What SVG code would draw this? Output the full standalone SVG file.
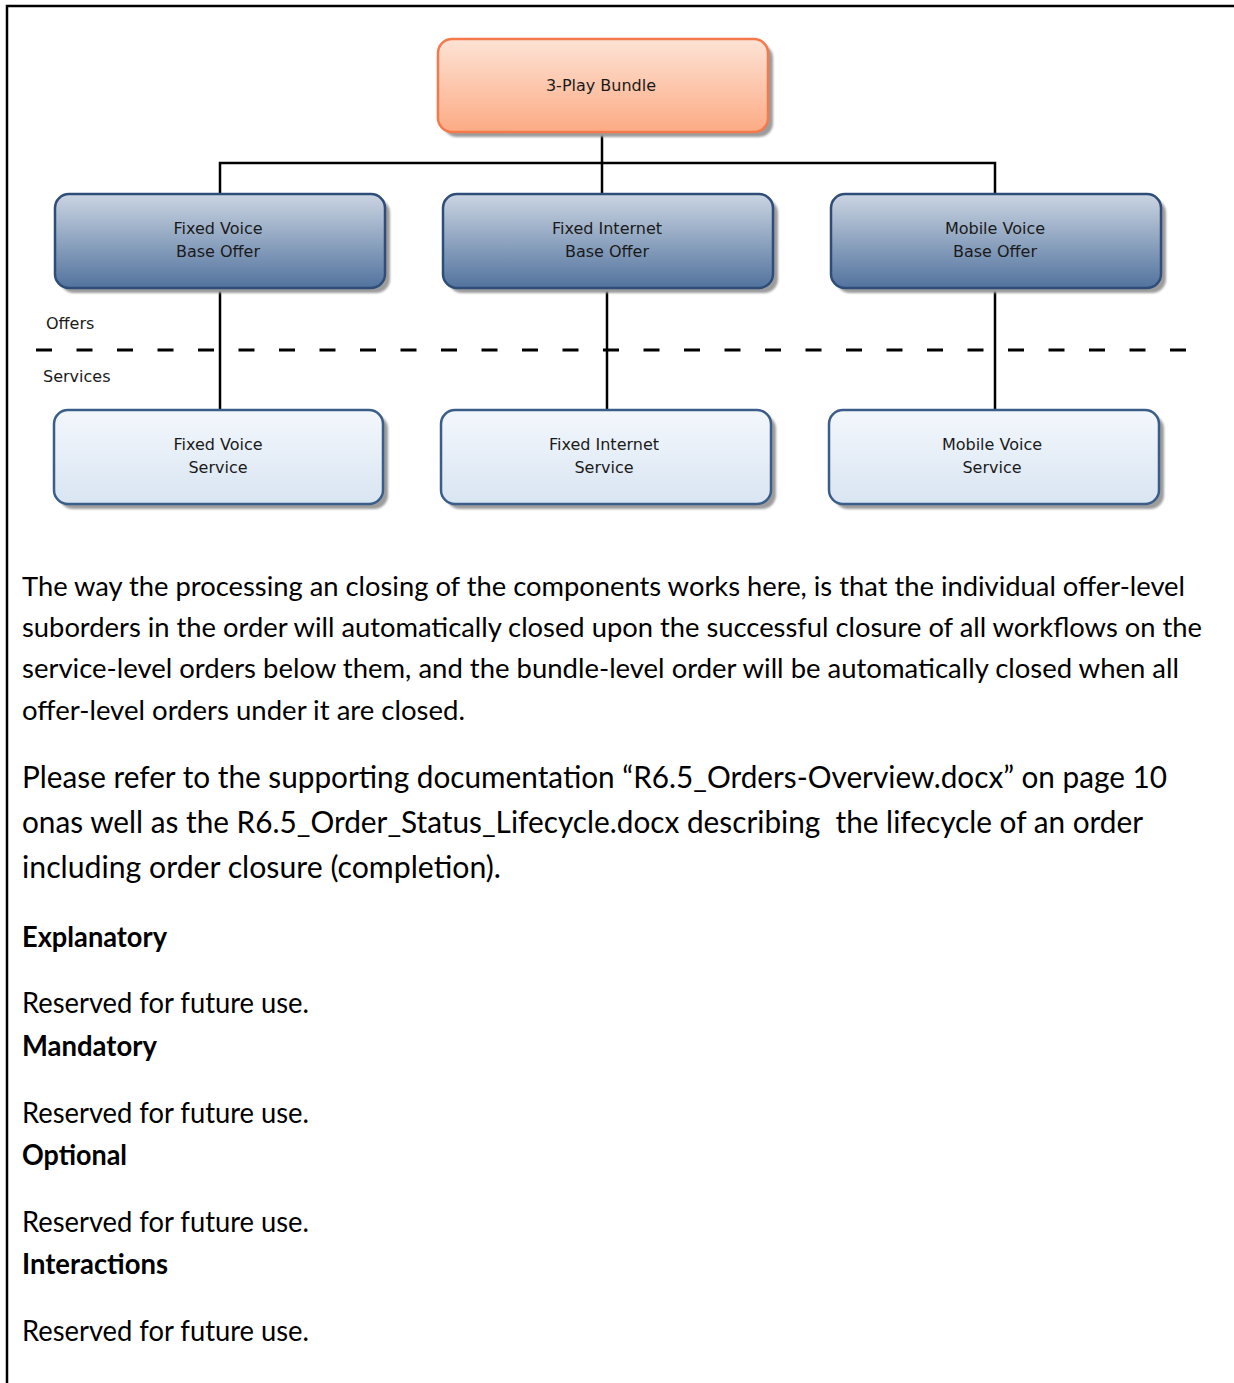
<svg xmlns="http://www.w3.org/2000/svg" width="1234" height="1383" viewBox="0 0 1234 1383">
  <defs>
    <linearGradient id="gBundle" x1="0" y1="0" x2="0" y2="1">
      <stop offset="0" stop-color="#fde3d5"/>
      <stop offset="1" stop-color="#fcab84"/>
    </linearGradient>
    <linearGradient id="gOffer" x1="0" y1="0" x2="0" y2="1">
      <stop offset="0" stop-color="#cbd5e2"/>
      <stop offset="1" stop-color="#52739e"/>
    </linearGradient>
    <linearGradient id="gService" x1="0" y1="0" x2="0" y2="1">
      <stop offset="0" stop-color="#f3f7fc"/>
      <stop offset="1" stop-color="#d9e5f2"/>
    </linearGradient>
    <filter id="blur" x="-5%" y="-5%" width="110%" height="120%">
      <feGaussianBlur stdDeviation="1"/>
    </filter>
  </defs>
  <style>
    .shadow { fill: #9c9c9c; filter: url(#blur); }
    .bundle { fill: url(#gBundle); stroke: #f7794b; stroke-width: 2.5; }
    .offer { fill: url(#gOffer); stroke: #2e4d78; stroke-width: 2.5; }
    .service { fill: url(#gService); stroke: #3a5d89; stroke-width: 2.5; }
    .nt { font-family: "DejaVu Sans", Verdana, sans-serif; font-size: 16px; fill: #1a1a1a; text-anchor: middle; }
    .lbl { font-family: "DejaVu Sans", Verdana, sans-serif; font-size: 16px; fill: #1a1a1a; }
    .conn { stroke: #000; stroke-width: 2.5; fill: none; }
    .body { font-family: Lato, "Open Sans", sans-serif; font-size: 27.5px; fill: #000; }
    .short { font-family: Lato, "Open Sans", sans-serif; font-size: 29px; fill: #000; }
    .body2 { font-family: Lato, "Open Sans", sans-serif; font-size: 30.5px; fill: #000; }
    .head { font-family: Lato, "Open Sans", sans-serif; font-size: 29px; font-weight: bold; fill: #000; }
  </style>
  <rect x="0" y="0" width="1234" height="1383" fill="#fff"/>
  <!-- frame -->
  <path d="M7 1383 V6 H1234" fill="none" stroke="#000" stroke-width="2.5"/>

  <!-- connectors -->
  <g id="connectors">
    <path class="conn" d="M602 132 V163"/>
    <path class="conn" d="M220 194 V163 H995 V194"/>
    <path class="conn" d="M602 163 V194"/>
    <path class="conn" d="M220 288 V410"/>
    <path class="conn" d="M607 288 V410"/>
    <path class="conn" d="M995 288 V410"/>
    <path d="M36 350 H1186" stroke="#000" stroke-width="3" stroke-dasharray="16 24.5" fill="none"/>
  </g>

  <g id="bundle">
    <rect class="shadow" x="443" y="44" width="330" height="93" rx="14"/>
    <rect class="bundle" x="438" y="39" width="330" height="93" rx="14"/>
    <text class="nt" x="601" y="91">3-Play Bundle</text>
  </g>

  <g id="offer-fixed-voice">
    <rect class="shadow" x="60" y="199" width="330" height="94" rx="14"/>
    <rect class="offer" x="55" y="194" width="330" height="94" rx="14"/>
    <text class="nt" x="218" y="234">Fixed Voice</text>
    <text class="nt" x="218" y="257">Base Offer</text>
  </g>
  <g id="offer-fixed-internet">
    <rect class="shadow" x="448" y="199" width="330" height="94" rx="14"/>
    <rect class="offer" x="443" y="194" width="330" height="94" rx="14"/>
    <text class="nt" x="607" y="234">Fixed Internet</text>
    <text class="nt" x="607" y="257">Base Offer</text>
  </g>
  <g id="offer-mobile-voice">
    <rect class="shadow" x="836" y="199" width="330" height="94" rx="14"/>
    <rect class="offer" x="831" y="194" width="330" height="94" rx="14"/>
    <text class="nt" x="995" y="234">Mobile Voice</text>
    <text class="nt" x="995" y="257">Base Offer</text>
  </g>

  <g id="layer-labels">
    <text class="lbl" x="46" y="329">Offers</text>
    <text class="lbl" x="43" y="382">Services</text>
  </g>

  <g id="service-fixed-voice">
    <rect class="shadow" x="59" y="415" width="329" height="94" rx="14"/>
    <rect class="service" x="54" y="410" width="329" height="94" rx="14"/>
    <text class="nt" x="218" y="450">Fixed Voice</text>
    <text class="nt" x="218" y="473">Service</text>
  </g>
  <g id="service-fixed-internet">
    <rect class="shadow" x="446" y="415" width="330" height="94" rx="14"/>
    <rect class="service" x="441" y="410" width="330" height="94" rx="14"/>
    <text class="nt" x="604" y="450">Fixed Internet</text>
    <text class="nt" x="604" y="473">Service</text>
  </g>
  <g id="service-mobile-voice">
    <rect class="shadow" x="834" y="415" width="330" height="94" rx="14"/>
    <rect class="service" x="829" y="410" width="330" height="94" rx="14"/>
    <text class="nt" x="992" y="450">Mobile Voice</text>
    <text class="nt" x="992" y="473">Service</text>
  </g>

  <g id="text">
    <text class="body" x="22" y="596" textLength="1163" lengthAdjust="spacingAndGlyphs">The way the processing an closing of the components works here, is that the individual offer-level</text>
    <text class="body" x="22" y="637" textLength="1180" lengthAdjust="spacingAndGlyphs">suborders in the order will automatically closed upon the successful closure of all workflows on the</text>
    <text class="body" x="22" y="678" textLength="1157" lengthAdjust="spacingAndGlyphs">service-level orders below them, and the bundle-level order will be automatically closed when all</text>
    <text class="body" x="22" y="720" textLength="443" lengthAdjust="spacingAndGlyphs">offer-level orders under it are closed.</text>

    <text class="body2" x="22" y="788" textLength="1145" lengthAdjust="spacingAndGlyphs">Please refer to the supporting documentation “R6.5_Orders-Overview.docx” on page 10</text>
    <text class="body2" x="22" y="833" textLength="1121" lengthAdjust="spacingAndGlyphs" xml:space="preserve">onas well as the R6.5_Order_Status_Lifecycle.docx describing  the lifecycle of an order</text>
    <text class="body2" x="22" y="878" textLength="479" lengthAdjust="spacingAndGlyphs">including order closure (completion).</text>

    <text class="head" x="22" y="947" textLength="145" lengthAdjust="spacingAndGlyphs">Explanatory</text>
    <text class="short" x="22" y="1013" textLength="287" lengthAdjust="spacingAndGlyphs">Reserved for future use.</text>
    <text class="head" x="22" y="1056" textLength="135" lengthAdjust="spacingAndGlyphs">Mandatory</text>
    <text class="short" x="22" y="1123" textLength="287" lengthAdjust="spacingAndGlyphs">Reserved for future use.</text>
    <text class="head" x="22" y="1165" textLength="105" lengthAdjust="spacingAndGlyphs">Optional</text>
    <text class="short" x="22" y="1232" textLength="287" lengthAdjust="spacingAndGlyphs">Reserved for future use.</text>
    <text class="head" x="22" y="1274" textLength="146" lengthAdjust="spacingAndGlyphs">Interactions</text>
    <text class="short" x="22" y="1341" textLength="287" lengthAdjust="spacingAndGlyphs">Reserved for future use.</text>
  </g>
</svg>
